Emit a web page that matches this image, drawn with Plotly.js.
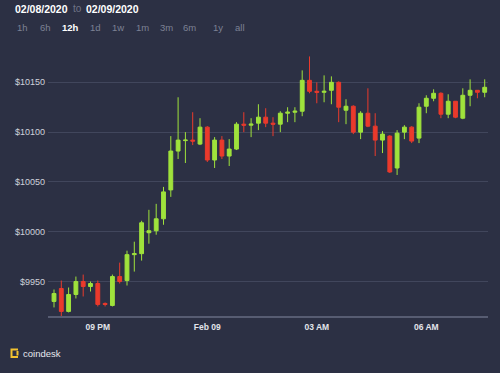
<!DOCTYPE html>
<html>
<head>
<meta charset="utf-8">
<script src="https://cdn.plot.ly/plotly-3.0.1.min.js"></script>
<style>
html,body{margin:0;padding:0;background:#2c3044;}
#chart{width:500px;height:373px;}
</style>
</head>
<body>
<div id="chart"></div>
<script>
// 12-minute candles, BTC/USD, 02/08/2020 to 02/09/2020
const times = [
 '2020-02-08 19:48','2020-02-08 20:00','2020-02-08 20:12','2020-02-08 20:24','2020-02-08 20:36','2020-02-08 20:48',
 '2020-02-08 21:00','2020-02-08 21:12','2020-02-08 21:24','2020-02-08 21:36','2020-02-08 21:48','2020-02-08 22:00',
 '2020-02-08 22:12','2020-02-08 22:24','2020-02-08 22:36','2020-02-08 22:48','2020-02-08 23:00','2020-02-08 23:12',
 '2020-02-08 23:24','2020-02-08 23:36','2020-02-08 23:48','2020-02-09 00:00','2020-02-09 00:12','2020-02-09 00:24',
 '2020-02-09 00:36','2020-02-09 00:48','2020-02-09 01:00','2020-02-09 01:12','2020-02-09 01:24','2020-02-09 01:36',
 '2020-02-09 01:48','2020-02-09 02:00','2020-02-09 02:12','2020-02-09 02:24','2020-02-09 02:36','2020-02-09 02:48',
 '2020-02-09 03:00','2020-02-09 03:12','2020-02-09 03:24','2020-02-09 03:36','2020-02-09 03:48','2020-02-09 04:00',
 '2020-02-09 04:12','2020-02-09 04:24','2020-02-09 04:36','2020-02-09 04:48','2020-02-09 05:00','2020-02-09 05:12',
 '2020-02-09 05:24','2020-02-09 05:36','2020-02-09 05:48','2020-02-09 06:00','2020-02-09 06:12','2020-02-09 06:24',
 '2020-02-09 06:36','2020-02-09 06:48','2020-02-09 07:00','2020-02-09 07:12','2020-02-09 07:24','2020-02-09 07:36'
];
const openP  = [9930,9943,9920,9937,9950,9945,9948,9928,9926,9955,9951,9977,9978,9999,10001,10013,10042,10081,10091.5,10092,
                10088,10105,10072,10092,10076,10083,10108,10107,10109,10115,10109,10108,10119,10120,10121,10152,10141,10140,10142,10150,
                10122,10126,10100,10119,10106,10092,10096,10064,10100,10105,10094,10126,10134,10139,10118,10131,10114,10137,10142,10140];
const highP  = [9942,9951,9944,9955,9957,9950,9951,9929,9957,9969,9981,9990,10011,10022,10028,10045,10096,10135,10100,10120,
                10114,10106,10095,10096,10093,10110,10120,10114,10128,10124,10115,10121,10125,10125,10162,10176,10150,10157,10156,10151,
                10133,10127,10121,10144,10119,10101,10097,10102,10107,10106,10129,10137,10143,10140,10138,10131,10144,10153,10142,10153];
const lowP   = [9924,9911,9919,9933,9935,9940,9925,9925,9925,9948,9946,9960,9971,9988,9997,10007,10035,10073,10069,10087,
                10087,10070,10064,10073,10066,10082,10100,10095,10102,10105,10096,10100,10110,10110,10116,10139,10129,10130,10128,10110,
                10108,10098,10093,10105,10076,10079,10059,10057,10093,10089,10089,10119,10131,10114,10114,10114,10113,10126,10134,10135];
const closeP = [9938,9920,9937,9950,9945,9948,9927,9927,9955,9950,9977,9978,10009,10001,10013,10040,10081,10092,10092,10091,
                10105,10072,10092,10076,10083,10108,10107,10108,10115,10109,10108,10119,10120,10121,10152,10141,10140,10141,10150,10125,
                10126,10100,10119,10106,10092,10098,10060,10099,10105,10091,10125,10134,10139,10118,10131,10115,10137,10142,10140,10145];

const yTickVals = [9950,10000,10050,10100,10150];
const yTickText = ['$9950','$10000','$10050','$10100','$10150'];
const xTickVals = ['2020-02-08 21:00','2020-02-09 00:00','2020-02-09 03:00','2020-02-09 06:00'];
const xTickText = ['09 PM','Feb 09','03 AM','06 AM'];
const rangeButtons = ['1h','6h','12h','1d','1w','1m','3m','6m','1y','all'];
const buttonPx = [22.5,45,70,95,118,142.5,166,189.5,217.5,240];

const GREEN = '#9fe23c', RED = '#ea3a2c';
const L = 48, T = 40, W = 440, H = 276;
const fx = px => (px - L) / W;
const fy = py => (T + H - py) / H;

const FONT = 'Liberation Sans, Arial, sans-serif';

const annotations = [
  {text:'02/08/2020', x:fx(13), y:fy(8.5), xanchor:'left', yanchor:'middle',
   font:{family:FONT,size:10.5,color:'#ffffff',weight:'bold'}},
  {text:'to', x:fx(70.5), y:fy(8.5), xanchor:'left', yanchor:'middle',
   font:{family:FONT,size:10,color:'#6f7487'}},
  {text:'02/09/2020', x:fx(83.5), y:fy(8.5), xanchor:'left', yanchor:'middle',
   font:{family:FONT,size:10.5,color:'#ffffff',weight:'bold'}},
  {text:'coindesk', x:fx(20.5), y:fy(353), xanchor:'left', yanchor:'middle',
   font:{family:FONT,size:9.5,color:'#e6e8ee'}}
];
rangeButtons.forEach((b,i) => {
  annotations.push({text:b, x:fx(buttonPx[i]), y:fy(27.5), xanchor:'center', yanchor:'middle',
    font:{family:FONT,size:9.5,color: b==='12h' ? '#ffffff' : '#7c8194', weight: b==='12h' ? 'bold':'normal'}});
});
annotations.forEach(a => { a.xref='paper'; a.yref='paper'; a.showarrow=false; });

const shapes = [
  {type:'path', xref:'paper', yref:'paper',
   path:`M ${fx(18)} ${fy(349.5)} L ${fx(11.5)} ${fy(349.5)} L ${fx(11.5)} ${fy(357)} L ${fx(18)} ${fy(357)}`,
   line:{color:'#f2c230',width:2}},
  {type:'rect', xref:'paper', yref:'paper', x0:fx(16.5), x1:fx(18.5), y0:fy(351), y1:fy(355.5),
   line:{width:0}, fillcolor:'#f2c230'}
];

const trace = {
  type:'candlestick',
  x: times, open: openP, high: highP, low: lowP, close: closeP,
  increasing:{line:{color:GREEN,width:1}, fillcolor:GREEN},
  decreasing:{line:{color:RED,width:1}, fillcolor:RED},
  whiskerwidth:0,
  hoverinfo:'none',
  showlegend:false
};

const layout = {
  width:500, height:373,
  margin:{l:L, r:500-L-W, t:T, b:373-T-H, pad:0},
  paper_bgcolor:'#2c3044',
  plot_bgcolor:'#2c3044',
  showlegend:false,
  boxgap:0.25,
  xaxis:{
    type:'date',
    range:['2020-02-08 19:38:08','2020-02-09 07:41:25'],
    rangeslider:{visible:false},
    showgrid:false, zeroline:false,
    showline:true, linecolor:'#575c72', linewidth:2,
    ticks:'', tickvals:xTickVals, ticktext:xTickText,
    tickfont:{family:FONT,size:8.5,color:'#e2e4ea',weight:'bold'},
    ticklabelstandoff:2
  },
  yaxis:{
    range:[9915.4,10192.5],
    showgrid:true, gridcolor:'#41465c', gridwidth:1,
    zeroline:false, showline:false, ticks:'',
    tickvals:yTickVals, ticktext:yTickText,
    tickfont:{family:FONT,size:9,color:'#cfd2db'},
    ticklabelstandoff:2
  },
  annotations: annotations,
  shapes: shapes
};

Plotly.newPlot('chart',[trace],layout,{displayModeBar:false,staticPlot:true});
</script>
</body>
</html>
